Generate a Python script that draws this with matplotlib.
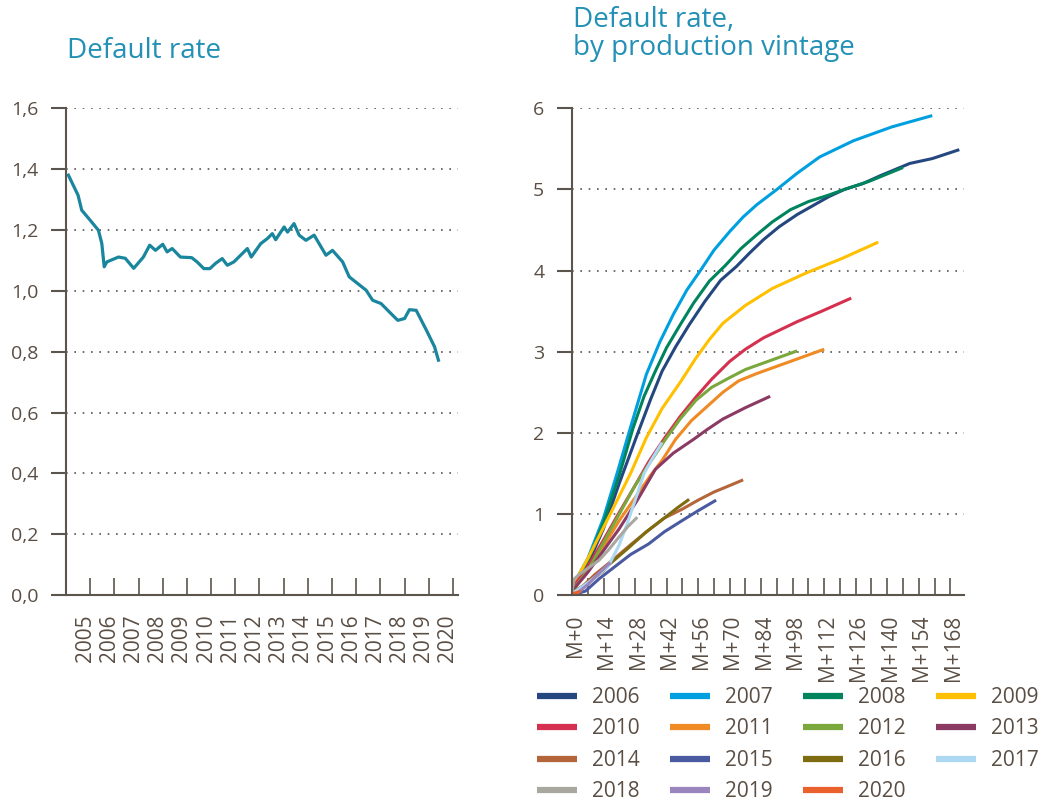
import matplotlib
matplotlib.use("Agg")
import matplotlib.pyplot as plt
import matplotlib.transforms as mtransforms
from matplotlib.lines import Line2D

plt.rcParams['font.family'] = ['Open Sans', 'DejaVu Sans']

# --- left chart: default rate over time ---
years = [2004.1, 2004.5, 2004.65, 2005.0, 2005.34, 2005.48, 2005.58, 2005.69, 2006.17, 2006.45,
         2006.8, 2007.2, 2007.46, 2007.7, 2008.0, 2008.18, 2008.39, 2008.73, 2009.2, 2009.42,
         2009.7, 2009.95, 2010.18, 2010.46, 2010.67, 2010.94, 2011.5, 2011.66, 2012.05, 2012.33,
         2012.53, 2012.67, 2013.02, 2013.16, 2013.43, 2013.64, 2013.92, 2014.26, 2014.75, 2015.02,
         2015.44, 2015.71, 2016.41, 2016.68, 2017.03, 2017.44, 2017.72, 2018.0, 2018.2, 2018.48,
         2018.9, 2019.24, 2019.4]
rates = [1.38, 1.314, 1.265, 1.232, 1.199, 1.156, 1.079, 1.095, 1.111, 1.107,
         1.074, 1.111, 1.15, 1.133, 1.153, 1.128, 1.139, 1.111, 1.109, 1.095,
         1.073, 1.073, 1.09, 1.106, 1.084, 1.095, 1.139, 1.111, 1.155, 1.172,
         1.188, 1.168, 1.21, 1.193, 1.221, 1.183, 1.166, 1.183, 1.117, 1.133,
         1.095, 1.046, 1.002, 0.969, 0.958, 0.925, 0.903, 0.909, 0.938, 0.936,
         0.871, 0.816, 0.772]
year_ticks = list(range(2005, 2021))
left_yticks = [0.0, 0.2, 0.4, 0.6, 0.8, 1.0, 1.2, 1.4, 1.6]

# --- right chart: default rate by production vintage (months since origination) ---
m2006 = [0, 7, 14, 21, 29, 35, 40, 46, 52, 59, 66, 73, 79, 85, 92, 100, 107, 114, 121, 129, 137, 150, 160, 172]
v2006 = [0.1, 0.38, 0.82, 1.38, 1.98, 2.42, 2.76, 3.06, 3.33, 3.62, 3.88, 4.05, 4.22, 4.38, 4.54, 4.69, 4.8,
         4.91, 5.0, 5.07, 5.17, 5.32, 5.38, 5.49]
m2007 = [0, 7, 14, 20, 26, 33, 39, 45, 51, 57, 63, 70, 76, 82, 91, 100, 110, 125, 142, 160]
v2007 = [0.1, 0.45, 0.95, 1.5, 2.07, 2.72, 3.12, 3.46, 3.76, 4.0, 4.25, 4.48, 4.66, 4.81, 5.0, 5.2, 5.4,
         5.6, 5.77, 5.91]
m2008 = [0, 7, 14, 21, 27, 32, 37, 42, 48, 54, 61, 68, 75, 82, 89, 97, 105, 114, 121, 132, 147]
v2008 = [0.1, 0.42, 0.9, 1.48, 2.05, 2.45, 2.76, 3.05, 3.33, 3.6, 3.87, 4.06, 4.27, 4.44, 4.6, 4.75, 4.85,
         4.93, 5.0, 5.1, 5.27]
m2009 = [0, 7, 17, 26, 33, 40, 48, 55, 61, 67, 77, 89, 104, 120, 136]
v2009 = [0.1, 0.45, 1.0, 1.5, 1.94, 2.3, 2.62, 2.92, 3.15, 3.35, 3.57, 3.78, 3.97, 4.15, 4.35]
m2010 = [0, 7, 14, 21, 28, 34, 41, 48, 55, 62, 70, 77, 85, 100, 111, 124]
v2010 = [0.08, 0.35, 0.68, 1.02, 1.35, 1.64, 1.93, 2.2, 2.44, 2.66, 2.88, 3.03, 3.17, 3.37, 3.5, 3.66]
m2011 = [0, 7, 14, 21, 28, 35, 40, 46, 53, 61, 67, 74, 82, 89, 102, 112]
v2011 = [0.05, 0.3, 0.6, 0.92, 1.2, 1.48, 1.66, 1.92, 2.15, 2.35, 2.5, 2.64, 2.73, 2.8, 2.93, 3.03]
m2012 = [0, 7, 14, 21, 28, 35, 42, 48, 55, 62, 70, 77, 85, 92, 100]
v2012 = [0.05, 0.3, 0.65, 1.0, 1.35, 1.65, 1.94, 2.17, 2.4, 2.56, 2.68, 2.78, 2.86, 2.93, 3.01]
m2013 = [0, 7, 14, 21, 29, 37, 45, 54, 60, 67, 77, 88]
v2013 = [0.05, 0.28, 0.55, 0.82, 1.17, 1.55, 1.75, 1.92, 2.04, 2.17, 2.31, 2.45]
m2014 = [0, 3, 10, 18, 26, 34, 41, 49, 56, 63, 70, 76]
v2014 = [0.03, 0.06, 0.25, 0.43, 0.62, 0.8, 0.95, 1.06, 1.17, 1.27, 1.35, 1.42]
m2015 = [0, 6, 12, 19, 26, 34, 41, 49, 56, 64]
v2015 = [0.0, 0.05, 0.2, 0.35, 0.5, 0.63, 0.78, 0.92, 1.04, 1.17]
m2016 = [0, 7, 14, 17, 25, 33, 41, 47, 52]
v2016 = [0.03, 0.15, 0.3, 0.39, 0.58, 0.78, 0.95, 1.08, 1.18]
m2017 = [0, 7, 16, 21, 25, 29, 32, 36, 40]
v2017 = [0.02, 0.15, 0.35, 0.62, 0.92, 1.25, 1.5, 1.7, 1.88]
m2018 = [0, 1, 3, 7, 12, 16, 21, 25, 29]
v2018 = [0.05, 0.2, 0.25, 0.33, 0.43, 0.55, 0.72, 0.85, 0.96]
m2019 = [0, 3, 7, 12, 17]
v2019 = [0.0, 0.04, 0.13, 0.27, 0.4]
m2020 = [0, 2, 4]
v2020 = [0.02, 0.03, 0.05]

vintages = ['2006', '2007', '2008', '2009', '2010', '2011', '2012', '2013',
            '2014', '2015', '2016', '2017', '2018', '2019', '2020']
vintage_colors = ['#24477F', '#00A0E0', '#00845E', '#FFC000', '#D5304F', '#F08A24', '#7AA83C', '#8A3A63',
                  '#B5653A', '#4A5AA0', '#7D6C10', '#ADD8F2', '#A8A8A0', '#9A85BF', '#EA612D']
vintage_months = [m2006, m2007, m2008, m2009, m2010, m2011, m2012, m2013,
                  m2014, m2015, m2016, m2017, m2018, m2019, m2020]
vintage_values = [v2006, v2007, v2008, v2009, v2010, v2011, v2012, v2013,
                  v2014, v2015, v2016, v2017, v2018, v2019, v2020]
right_yticks = [0, 1, 2, 3, 4, 5, 6]

title_color = '#2390B6'
axis_color = '#5C554E'
label_color = '#5A4E44'
fs = 14
fs_x = 15

fig = plt.figure(figsize=(10.56, 8.02), dpi=100)
ax1 = fig.add_axes([0.0625, 0.258, 0.371, 0.607])
ax2 = fig.add_axes([0.5417, 0.258, 0.371, 0.607])


def style_axes(ax):
    for s in ['top', 'right']:
        ax.spines[s].set_visible(False)
    for s in ['left', 'bottom']:
        ax.spines[s].set_color(axis_color)
        ax.spines[s].set_linewidth(1.5)
    ax.tick_params(axis='y', direction='out', length=11, width=1.5, color=axis_color,
                   labelcolor=label_color, labelsize=fs, pad=9)
    ax.tick_params(axis='x', which='both', direction='in', length=12, width=1.2, color=axis_color,
                   labelcolor=label_color, labelsize=fs_x, pad=14, labelrotation=90)


# left chart
ax1.plot(years, rates, color='#1A869E', lw=2.3, solid_joinstyle='round')
ax1.set_xlim(2004, 2020.2)
ax1.set_ylim(0, 1.6)
ax1.set_yticks(left_yticks)
ax1.set_yticklabels([f"{v:.1f}".replace('.', ',') for v in left_yticks])
ax1.set_xticks(year_ticks)
ax1.set_xticklabels([str(y) for y in year_ticks])
for v in left_yticks[1:]:
    ax1.axhline(v, color='#555555', lw=1.2, ls=(0, (1, 4)), zorder=0)
style_axes(ax1)
offset = mtransforms.ScaledTranslation(-5 / 100, 0, fig.dpi_scale_trans)
for lab in ax1.get_xticklabels():
    lab.set_transform(lab.get_transform() + offset)

# right chart
for name, col, mm, vv in zip(vintages, vintage_colors, vintage_months, vintage_values):
    ax2.plot(mm, vv, color=col, lw=2.2, label=name, solid_capstyle='butt', solid_joinstyle='round')
ax2.set_xlim(0, 174)
ax2.set_ylim(0, 6)
ax2.set_yticks(right_yticks)
ax2.set_xticks(list(range(0, 169, 14)))
ax2.set_xticklabels([f"M+{m}" for m in range(0, 169, 14)])
ax2.set_xticks(list(range(7, 169, 14)), minor=True)
for v in right_yticks[1:]:
    ax2.axhline(v, color='#555555', lw=1.2, ls=(0, (1, 4)), zorder=0)
style_axes(ax2)
offset2 = mtransforms.ScaledTranslation(3 / 100, 0, fig.dpi_scale_trans)
for lab in ax2.get_xticklabels():
    lab.set_transform(lab.get_transform() + offset2)

# titles
fig.text(67 / 1056, 1 - 58 / 802, "Default rate", color=title_color, fontsize=20, ha='left', va='baseline')
fig.text(573 / 1056, 1 - 27 / 802, "Default rate,", color=title_color, fontsize=20, ha='left', va='baseline')
fig.text(573 / 1056, 1 - 55 / 802, "by production vintage", color=title_color, fontsize=20, ha='left', va='baseline')

# legend, filled row by row like the original
order = [i for c in range(4) for i in range(c, len(vintages), 4)]
leg_handles = [Line2D([], [], color=vintage_colors[i], lw=4.5, solid_capstyle='butt') for i in order]
leg_labels = [vintages[i] for i in order]
fig.legend(leg_handles, leg_labels, ncol=4, loc='upper left', bbox_to_anchor=(537 / 1056, 1 - 687 / 802),
           frameon=False, fontsize=fs_x, handlelength=1.92, handletextpad=0.72, columnspacing=1.45,
           labelspacing=0.5, borderpad=0, borderaxespad=0, labelcolor=label_color)

fig.savefig("out.png", dpi=100)
